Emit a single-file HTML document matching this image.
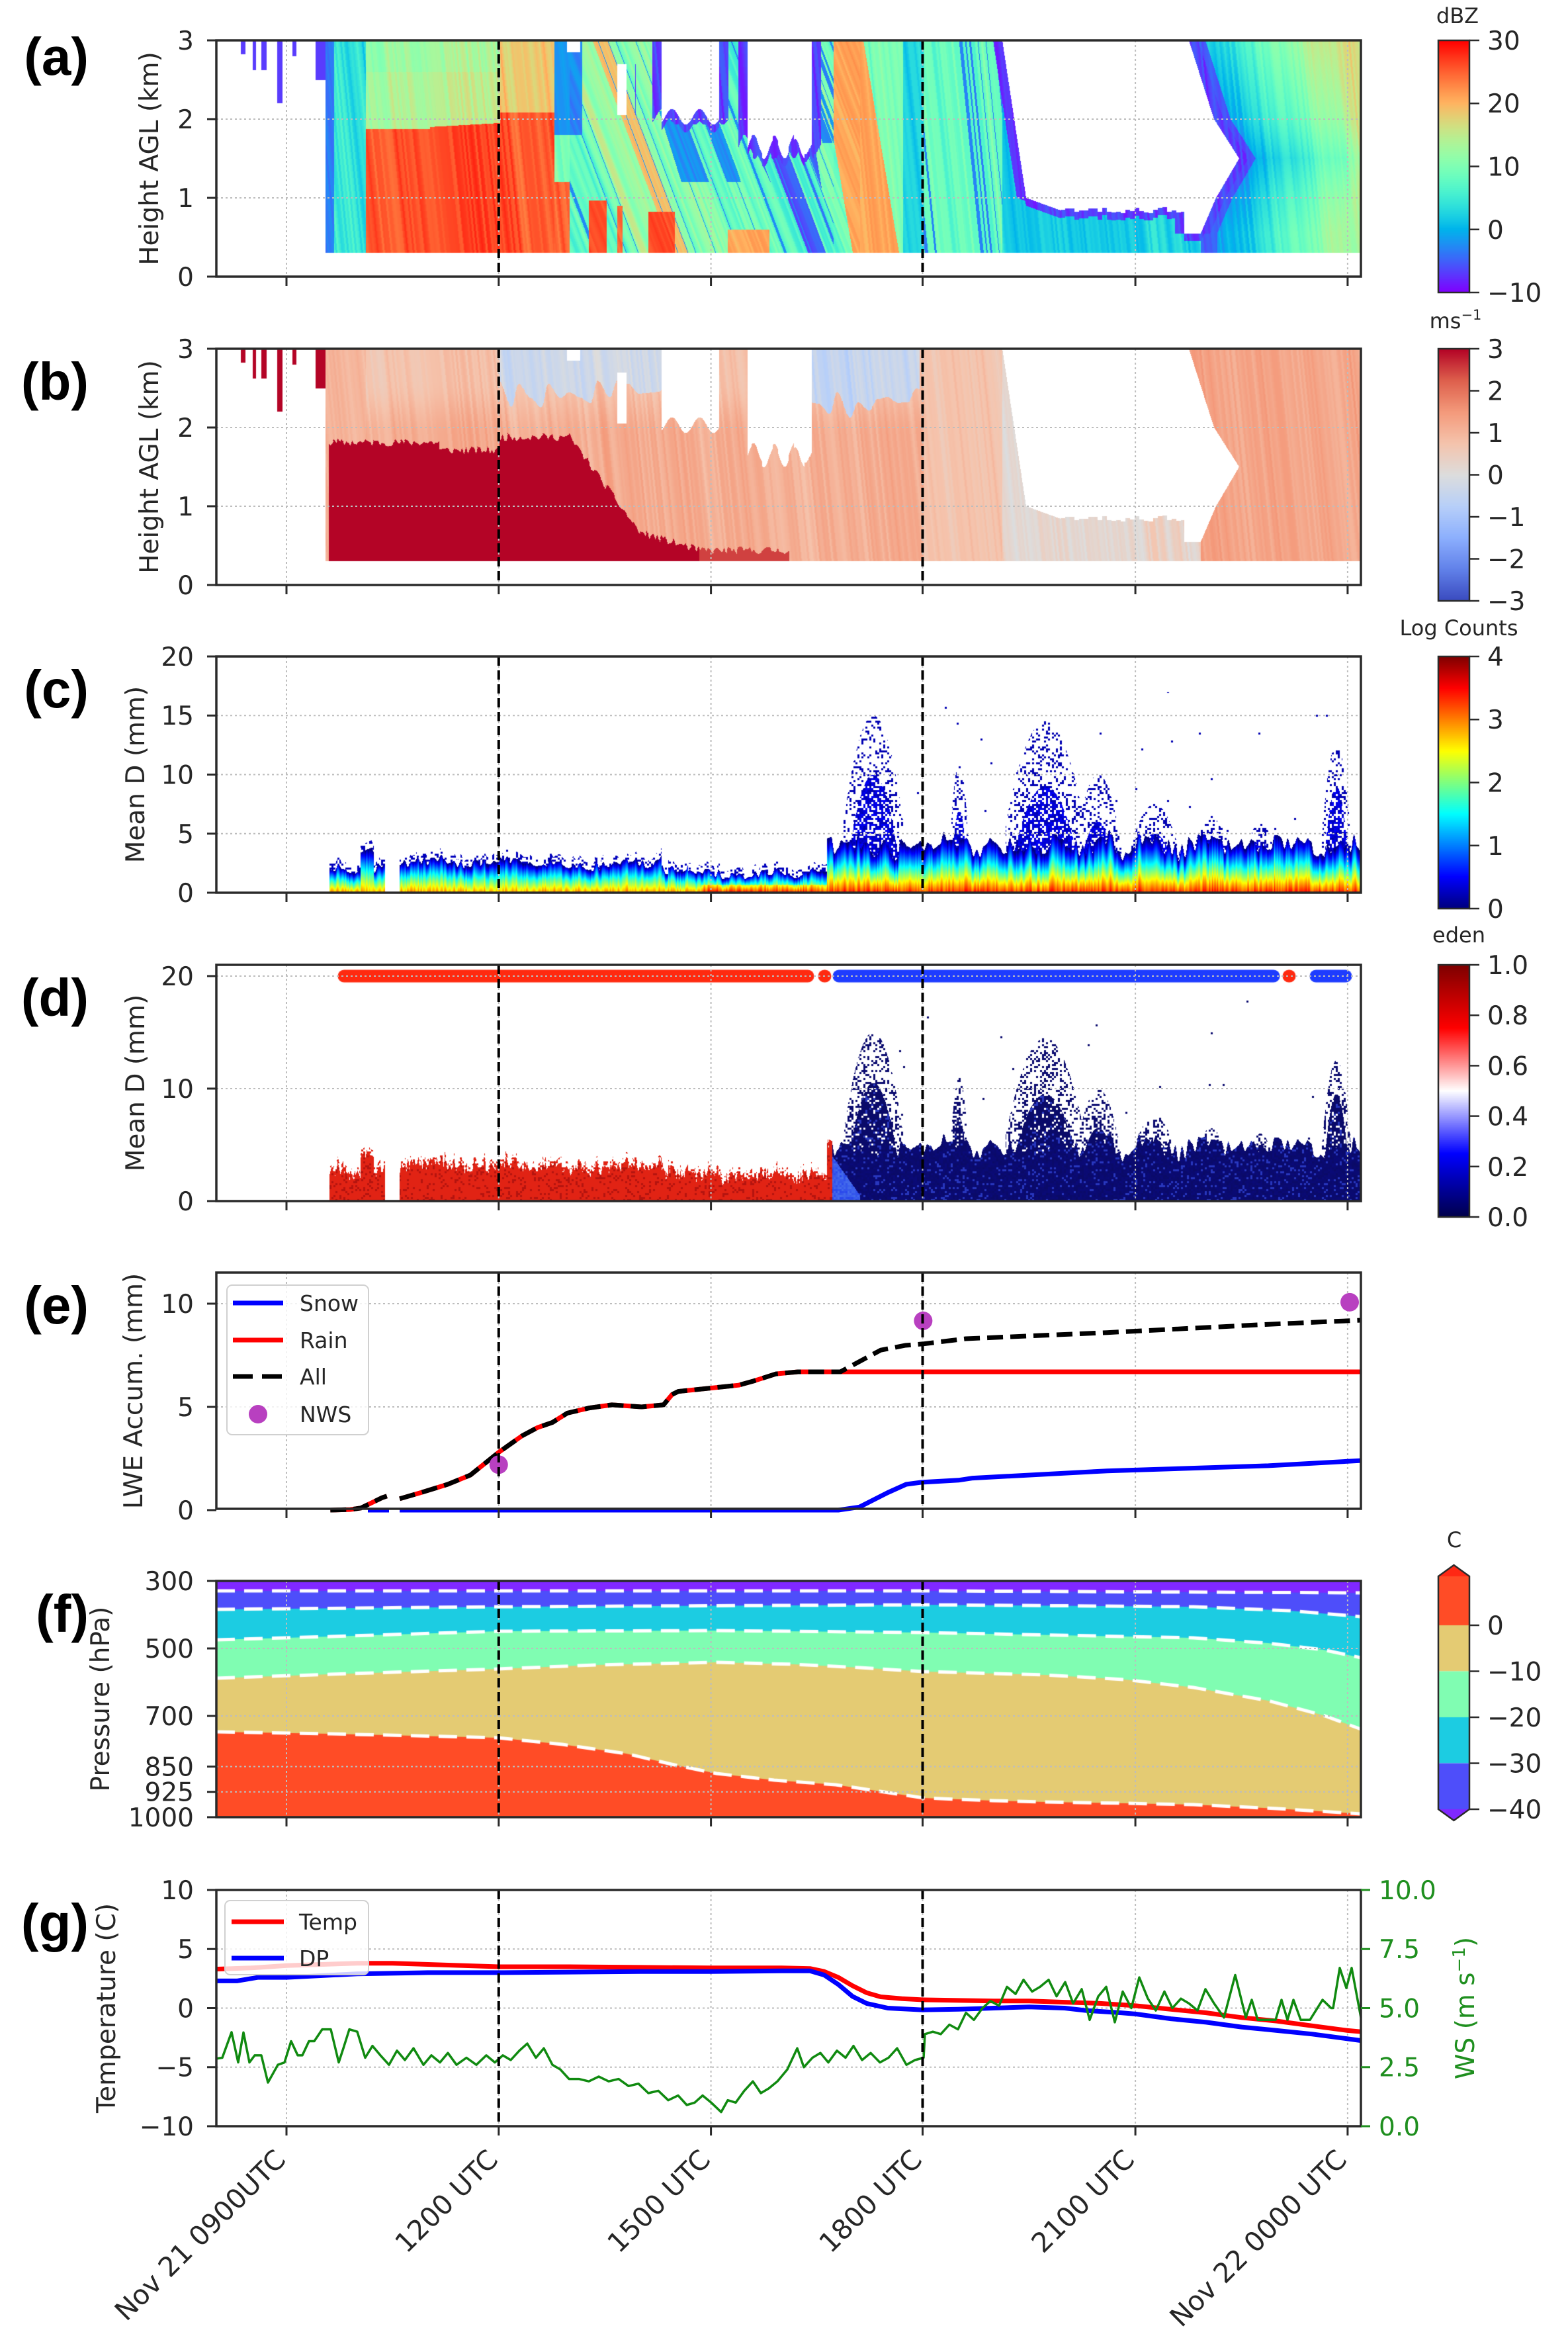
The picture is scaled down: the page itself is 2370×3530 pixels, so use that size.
<!DOCTYPE html>
<html><head><meta charset="utf-8"><title>chart</title>
<style>
html,body{margin:0;padding:0;background:#fff;}
#wrap{position:relative;width:2370px;height:3530px;overflow:hidden;background:#fff;}
#cv,#sv{position:absolute;left:0;top:0;}
#sv text{font-family:"DejaVu Sans","Liberation Sans",sans-serif;}
</style></head><body><div id="wrap">
<canvas id="cv" width="2370" height="3530"></canvas>
<svg id="sv" width="2370" height="3530" viewBox="0 0 2370 3530" xmlns="http://www.w3.org/2000/svg">
<g id="dyn"></g>

<!-- legend e -->
<rect x="343" y="1942" width="214" height="226" rx="8" fill="#fff" fill-opacity="0.8" stroke="#d0d0d0" stroke-width="2"/>
<line x1="352" y1="1969" x2="428" y2="1969" stroke="#0000ff" stroke-width="7"/>
<line x1="352" y1="2025" x2="428" y2="2025" stroke="#ff0000" stroke-width="7"/>
<line x1="352" y1="2080" x2="428" y2="2080" stroke="#000" stroke-width="7" stroke-dasharray="30 14"/>
<circle cx="390" cy="2137" r="14" fill="#b840c0"/>
<g font-size="33" fill="#262626">
<text x="453" y="1981">Snow</text>
<text x="453" y="2037">Rain</text>
<text x="453" y="2092">All</text>
<text x="453" y="2149">NWS</text>
</g>
<!-- legend g -->
<rect x="340" y="2872" width="217" height="112" rx="8" fill="#fff" fill-opacity="0.8" stroke="#d0d0d0" stroke-width="2"/>
<line x1="350" y1="2904" x2="429" y2="2904" stroke="#ff0000" stroke-width="7"/>
<line x1="350" y1="2959" x2="429" y2="2959" stroke="#0000ff" stroke-width="7"/>
<g font-size="33" fill="#262626">
<text x="452" y="2916">Temp</text>
<text x="452" y="2971">DP</text>
</g>

<!-- panel letters -->
<g font-size="80" text-anchor="end" fill="#000" font-weight="bold">
<text x="134" y="113" style="font-family:'Liberation Sans',Arial,sans-serif">(a)</text>
<text x="134" y="604" style="font-family:'Liberation Sans',Arial,sans-serif">(b)</text>
<text x="134" y="1069" style="font-family:'Liberation Sans',Arial,sans-serif">(c)</text>
<text x="134" y="1535" style="font-family:'Liberation Sans',Arial,sans-serif">(d)</text>
<text x="134" y="2000" style="font-family:'Liberation Sans',Arial,sans-serif">(e)</text>
<text x="134" y="2466" style="font-family:'Liberation Sans',Arial,sans-serif">(f)</text>
<text x="134" y="2933" style="font-family:'Liberation Sans',Arial,sans-serif">(g)</text>
</g>

<!-- y labels -->
<g font-size="39" fill="#262626" text-anchor="middle">
<text transform="translate(239,239.5) rotate(-90)">Height AGL (km)</text>
<text transform="translate(239,705.5) rotate(-90)">Height AGL (km)</text>
<text transform="translate(218,1170.5) rotate(-90)">Mean D (mm)</text>
<text transform="translate(218,1636.5) rotate(-90)">Mean D (mm)</text>
<text transform="translate(215,2102) rotate(-90)">LWE Accum. (mm)</text>
<text transform="translate(165,2567.5) rotate(-90)">Pressure (hPa)</text>
<text transform="translate(174,3034.5) rotate(-90)">Temperature (C)</text>
<text transform="translate(2228,3034.5) rotate(-90)" fill="#1f8f1f">WS (m s<tspan font-size="26" dy="-14">−1</tspan><tspan dy="14">)</tspan></text>
</g>

<!-- y tick labels -->
<g font-size="39" fill="#262626" text-anchor="end">
<text x="293" y="75">3</text><text x="293" y="194">2</text><text x="293" y="313">1</text><text x="293" y="432">0</text>
<text x="293" y="541">3</text><text x="293" y="660">2</text><text x="293" y="779">1</text><text x="293" y="898">0</text>
<text x="293" y="1006">20</text><text x="293" y="1095">15</text><text x="293" y="1184.5">10</text><text x="293" y="1274">5</text><text x="293" y="1363">0</text>
<text x="293" y="1489">20</text><text x="293" y="1659">10</text><text x="293" y="1829">0</text>
<text x="293" y="1984">10</text><text x="293" y="2140">5</text><text x="293" y="2296">0</text>
<text x="293" y="2403">300</text><text x="293" y="2505">500</text><text x="293" y="2607">700</text><text x="293" y="2683.5">850</text><text x="293" y="2721.7">925</text><text x="293" y="2760">1000</text>
<text x="293" y="2870">10</text><text x="293" y="2959.2">5</text><text x="293" y="3048.5">0</text><text x="293" y="3137.7">−5</text><text x="293" y="3227">−10</text>
</g>
<g font-size="39" fill="#1f8f1f" text-anchor="start">
<text x="2084" y="2870">10.0</text><text x="2084" y="2959.2">7.5</text><text x="2084" y="3048.5">5.0</text><text x="2084" y="3137.7">2.5</text><text x="2084" y="3227">0.0</text>
</g>

<!-- colorbar tick labels -->
<g font-size="39" fill="#262626" text-anchor="start">
<text x="2248" y="75">30</text><text x="2248" y="170">20</text><text x="2248" y="265.5">10</text><text x="2248" y="361">0</text><text x="2248" y="456">−10</text>
<text x="2248" y="541">3</text><text x="2248" y="604.5">2</text><text x="2248" y="668">1</text><text x="2248" y="731.5">0</text><text x="2248" y="795">−1</text><text x="2248" y="858.5">−2</text><text x="2248" y="922">−3</text>
<text x="2248" y="1006">4</text><text x="2248" y="1101">3</text><text x="2248" y="1196.5">2</text><text x="2248" y="1292">1</text><text x="2248" y="1387">0</text>
<text x="2248" y="1472">1.0</text><text x="2248" y="1548">0.8</text><text x="2248" y="1624.4">0.6</text><text x="2248" y="1700.6">0.4</text><text x="2248" y="1776.8">0.2</text><text x="2248" y="1853">0.0</text>
<text x="2248" y="2470">0</text><text x="2248" y="2539.5">−10</text><text x="2248" y="2609">−20</text><text x="2248" y="2678.5">−30</text><text x="2248" y="2748">−40</text>
</g>
<!-- colorbar titles -->
<g font-size="32" fill="#262626" text-anchor="middle">
<text x="2203" y="35">dBZ</text>
<text x="2200" y="496">ms<tspan font-size="21" dy="-13">−1</tspan></text>
<text x="2205" y="960">Log Counts</text>
<text x="2205" y="1424">eden</text>
<text x="2198" y="2338">C</text>
</g>

<!-- x tick labels -->
<g font-size="41" fill="#262626" text-anchor="end">
<text transform="translate(434,3266) rotate(-45)">Nov 21 0900UTC</text>
<text transform="translate(755,3266) rotate(-45)">1200 UTC</text>
<text transform="translate(1076,3266) rotate(-45)">1500 UTC</text>
<text transform="translate(1396,3266) rotate(-45)">1800 UTC</text>
<text transform="translate(1717,3266) rotate(-45)">2100 UTC</text>
<text transform="translate(2038,3266) rotate(-45)">Nov 22 0000 UTC</text>
</g>
</svg></div>
<script>
(function(){
const cv=document.getElementById('cv'),ctx=cv.getContext('2d');
const NS='http://www.w3.org/2000/svg',dyn=document.getElementById('dyn');
function el(t,a){const e=document.createElementNS(NS,t);for(const k in a)e.setAttribute(k,a[k]);dyn.appendChild(e);return e;}
const L=327,R=2057,W=1730,H=357;
const T={a:61,b:527,c:992,d:1458,e:1923,f:2389,g:2856};
const XT=[433,753.8,1074.6,1394.5,1716.1,2036.9];
const X=h=>433+(h-9)*106.93;
const cl=v=>v<0?0:v>1?1:v;
function rainbow(t){t=cl(t);return [Math.min(1,Math.abs(2*t-0.5))*255,Math.sin(Math.PI*t)*255,Math.cos(Math.PI*t/2)*255];}
function stops(S,t){t=cl(t);for(let i=1;i<S.length;i++){if(t<=S[i][0]){const a=S[i-1],b=S[i],f=(t-a[0])/(b[0]-a[0]);return [a[1]+(b[1]-a[1])*f,a[2]+(b[2]-a[2])*f,a[3]+(b[3]-a[3])*f];}}const l=S[S.length-1];return [l[1],l[2],l[3]];}
const CW=[[0,59,76,192],[0.125,98,130,234],[0.25,141,176,254],[0.375,184,208,249],[0.5,221,221,221],[0.625,245,196,173],[0.75,244,154,123],[0.875,222,96,77],[1,180,4,38]];
const SE=[[0,0,0,76],[0.25,0,0,255],[0.5,255,255,255],[0.75,255,0,0],[1,127,0,0]];
const coolwarm=t=>stops(CW,t),seismic=t=>stops(SE,t);
function jet(t){t=cl(t);const f=v=>cl(1.5-Math.abs(v))*255;return [f(4*t-3),f(4*t-2),f(4*t-1)];}
function rng(s){return function(){s=(s*1664525+1013904223)>>>0;return s/4294967296;};}
function mkNoise(n,sc,seed){const r=rng(seed);const k=Math.ceil(n/sc)+3;const p=[];for(let i=0;i<k;i++)p.push(r()*2-1);const a=new Float32Array(n);for(let i=0;i<n;i++){const q=i/sc,i0=Math.floor(q),f=q-i0,s=f*f*(3-2*f);a[i]=p[i0]*(1-s)+p[i0+1]*s;}return a;}
function hash(i,j){let h=(Math.imul(i|0,374761393)+Math.imul(j|0,668265263))|0;h=Math.imul(h^(h>>>13),1274126177);h^=h>>>16;return (h>>>0)/4294967296;}
function lerpPts(P,v){if(v<=P[0][0])return P[0][1];for(let i=1;i<P.length;i++){if(v<=P[i][0]){const a=P[i-1],b=P[i];return a[1]+(b[1]-a[1])*(v-a[0])/(b[0]-a[0]);}}return P[P.length-1][1];}
function paint(top,fn){const img=ctx.createImageData(W,H),d=img.data;for(let j=0;j<H;j++){const y=top+j+0.5;for(let i=0;i<W;i++){const x=L+i+0.5;const c=fn(x,y);const k=(j*W+i)*4;if(c){d[k]=c[0];d[k+1]=c[1];d[k+2]=c[2];}else{d[k]=255;d[k+1]=255;d[k+2]=255;}d[k+3]=255;}}ctx.putImageData(img,L,top);}
const sm=(a,b,v)=>{const t=cl((v-a)/(b-a));return t*t*(3-2*t);};

/* ---------- panels a & b ---------- */
const nA1=mkNoise(2200,3,11),nA2=mkNoise(2200,15,12),nA3=mkNoise(2200,50,13);
const streaks=[[364,371,2.82],[382,387,2.62],[395,403,2.62],[419,427,2.2],[442,448,2.8],[477,493,2.5]];
const holeR=[[0.55,1815],[1.0,1838],[1.5,1873],[2.0,1835],[3.0,1797]];
function holeL(h){return h>=1.0?1515+(3-h)*18:1551+(1.0-h)/0.15*49;}
function holeBottom(x){if(x<1600)return 0.85+(1600-x)/49*0.15;if(x<1790)return 0.85+0.08*(hash(Math.floor(x/7),3)-0.5);return 0.55;}
function inHole(x,h){
 if(h<0.3)return true;
 if(x<492){for(const s of streaks)if(x>=s[0]&&x<s[1]&&h>=s[2])return false;return true;}
 if(x>=857&&x<877&&h>2.85)return true;
 if(x>=933&&x<947&&h>2.05&&h<2.7)return true;
 if(x>=1000&&x<1087&&h>2.03+0.1*Math.sin(x*0.15))return true;
 if(x>=1130&&x<1227&&h>1.64+0.12*Math.sin(x*0.2)+0.1*(hash(Math.floor(x/8),9)-0.5))return true;
 if(h>0.5&&x>holeL(h)&&x<lerpPts(holeR,h)&&h>holeBottom(x))return true;
 return false;}
function idx(x,h,s){let i=Math.round(x-L+100-s*(1.5-h));return i<0?0:i>2199?2199:i;}
function valA(x,h){
 const s=(x>861&&x<1300)?45:12;
 const xi=idx(x,h,s);const n=0.55*nA1[xi]+0.45*nA2[xi];
 if(x<492)return -7;
 if(x<505)return -4+2*n;
 if(x<553)return 4+5*n;
 if(x<838){const ht=x<650?1.87:x<756?1.9+(x-650)/106*0.05:2.08;
  if(h<ht)return 26+3*n;
  return x<756?14+4*n-(h>2.6?1.5:0):19+3*n;}
 if(x<861)return h<1.2?25+3*n:(h>1.8?-2+2*n:10+5*n);
 if(x<1260){
  if(x>=890&&x<917&&h<0.97)return 26+2*n;
  if(x>=933&&x<941&&h<0.9)return 25+2*n;
  if(x>=980&&x<1020&&h<0.82)return 26+2*n;
  if(x>=1100&&x<1163&&h<0.6)return 21+2*n;
  const xs=x-45*(1.5-h);
  let v=9+5*n+3*nA3[xi];
  if(Math.abs(xs-975)<12)v=19+2*n;
  if(x<880&&h>1.8)v=-3+2*n;
  if(h>1.2&&h<2.1){const c=1045+(2.0-h)/0.8*30;if(Math.abs(x-c)<45&&nA2[xi]>-0.35)v=-3+3*n;}
  if(h<1.7){const t=(1.64-h)/1.34;const xl=1140+t*75,xr=1232+t*26;if(x>xl&&x<xr&&nA2[xi]>-0.45)v=-5+3*n;}
  if(x>1232&&h>1.7&&nA1[xi]<0)v=-2+2*n;
  if(nA1[xi]<-0.8)v=-2+2*n;
  return v;}
 if(x<1365){const c=1300+20*(1.5-h);if(Math.abs(x-c)<35)return 21+2*n;return 9+4*n;}
 if(x<1396)return 2+3*n;
 if(x<1515){if(nA1[xi]<-0.6)return -3+2*n;return 8+4*n+2*nA3[xi];}
 const hc=Math.max(0.55,Math.min(3,h));const rr=lerpPts(holeR,hc);
 if(x<rr)return 2+3*n;
 const d=x-rr;
 if(d<25)return -6+2*n;
 return Math.min(13,-3+(d-25)/140*12)+h*1.2+3*n;}
function valB(x,h){
 const xi=idx(x,h,12);const n=0.55*nA1[xi]+0.45*nA2[xi];
 if(x<492)return 3;
 let dt=0;
 if(x>=497&&x<664)dt=1.81;else if(x>=664&&x<755)dt=1.71;else if(x>=755&&x<861)dt=1.88;
 else if(x>=861&&x<967)dt=1.88-(x-861)/106*1.21;else if(x>=967&&x<1057)dt=0.67-(x-967)/90*0.23;else if(x>=1057&&x<1193)dt=0.44;
 if(dt>0)dt+=0.05*nA1[xi];
 if(h<dt)return x>1057?2.5:3;
 if(x<553)return 1.0+0.3*n;
 if(x>=755&&x<1000&&h>2.45+0.2*nA2[xi])return -0.3+0.4*n;
 if(x>=1220&&x<1390&&h>2.3+0.2*nA2[xi])return -0.5+0.5*n;
 if(x>=1515){const hc=Math.max(0.55,Math.min(3,h));const rr=lerpPts(holeR,hc);
  if(x<rr)return 0.25+0.45*n;return 1.25+0.35*n;}
 if(x>=1396)return 0.7+0.3*n;
 return 1.15-0.4*sm(1.9,2.6,h)+0.4*n;}
paint(T.a,function(x,y){const h=(418-y)/119;if(inHole(x,h))return null;
 let v;
 if(x>960&&(inHole(x+14,h)||inHole(x-14,h)||inHole(x,h+0.1)))v=-7+2*nA1[idx(x,h,12)];
 else v=valA(x,h);
 return rainbow((v+10)/40);});
paint(T.b,function(x,y){const h=(884-y)/119;if(inHole(x,h))return null;return coolwarm((valB(x,h)+3)/6);});

/* ---------- panels c & d ---------- */
const nC1=mkNoise(2200,5,31),nC2=mkNoise(2200,25,32),nC3=mkNoise(2200,2,33);
function bandC(x){const i=Math.round(x-L)+100;
 if(x<498)return 0;
 if(x<582)return 2.0+0.5*nC1[i]+(x>545&&x<565?1.4:0);
 if(x<604)return 0;
 if(x<1000)return 2.5+0.45*nC1[i]+0.35*nC2[i];
 if(x<1250)return 1.6+0.35*nC1[i]+0.25*nC2[i]+(x>1010&&x<1040?0.6:0);
 return 4.0+0.9*nC1[i]+0.7*nC2[i];}
const TW=[[1320,45,10,15],[1450,14,7,11],[1580,60,9,14.5],[1660,35,6,10],[1745,40,5,7.5],[1830,30,4.5,6.5],[1905,25,4.5,6],[2020,22,9,12.5]];
function tw(x){let d=0,s=0;for(const t of TW){const u=Math.abs(x-t[0])/t[1];if(u<1){d=Math.max(d,t[2]*(1-u*u));s=Math.max(s,t[3]*(1-u*u*0.6));}}return [d,s];}
paint(T.c,function(x,y){const D=(1349-y)/17.85;if(D<0.08)return null;const i=Math.round(x-L)+100;const r=hash(Math.floor(x/3),Math.floor(y/3));const bt=bandC(x);
 if(bt<=0)return null;
 if(x<1250){if(D<bt){const f=D/bt;let v=2.9*Math.pow(1-f,0.85)+0.3*nC3[i]+(x>1060&&D<0.7?0.5:0);return jet(v/4);}
  if(D<bt+0.6&&r<0.25)return jet(0.06);return null;}
 const q=tw(x);
 if(D<bt){const f=D/bt;const v=3.35*(1-f)+0.3*nC3[i];return jet(v/4);}
 if(D<Math.max(bt,q[0]))return r<0.7?jet(0.04+0.12*r):null;
 if(D<Math.max(bt,q[1]))return r<0.22?jet(0.05):null;
 return (r<0.0015&&D<17)?jet(0.05):null;});
paint(T.d,function(x,y){const D=(1815-y)/17.0;if(D<0.08)return null;const i=Math.round(x-L)+100;const r=hash(Math.floor(x/3)+11,Math.floor(y/3)+17);
 if(x<498)return null;
 if(x<1258){const bt=bandC(x);if(bt<=0)return null;const top=bt+0.6+0.5*nC3[i];if(D<top)return r<0.15?[180,20,15]:[225,35,20];if(D<top+0.5&&r<0.3)return [225,35,20];return null;}
 const bt=bandC(x)+0.8;const q=tw(x);
 if(D<bt){if(x<1300&&D<0.5+3.5*(1300-x)/42)return [40+30*r,70+40*r,235];return r<0.12?[40,55,190]:[10,10,100+20*r];}
 if(D<Math.max(bt,q[0]+0.5))return r<0.85?(r<0.1?[40,55,190]:[10,10,105]):null;
 if(D<Math.max(bt,q[1]))return r<0.3?[10,10,110]:null;
 return (r<0.0015&&D<18)?[10,10,110]:null;});
ctx.lineCap='round';ctx.lineWidth=19;
function seg(x1,x2,c){ctx.strokeStyle=c;ctx.beginPath();ctx.moveTo(x1,1475);ctx.lineTo(x2,1475);ctx.stroke();}
seg(520,1221,'#ff2a10');seg(1246,1247,'#ff2a10');seg(1268,1925,'#1e3cff');seg(1948,1949,'#ff2a10');seg(1989,2034,'#1e3cff');
ctx.lineCap='butt';

/* ---------- panel f ---------- */
const c0=[[327,2617],[500,2620],[753,2626],[850,2636],[947,2650],[1015,2666],[1083,2680],[1170,2690],[1263,2697],[1330,2707],[1396,2717],[1500,2721],[1579,2723],[1700,2725],[1804,2727],[1930,2733],[2057,2741]];
const c10=[[327,2536],[500,2530],[753,2522],[900,2516],[1083,2512],[1200,2515],[1300,2520],[1396,2526],[1579,2531],[1700,2538],[1804,2550],[1917,2570],[2000,2592],[2057,2613]];
const c20=[[327,2478],[500,2473],[753,2465],[1083,2464],[1396,2467],[1600,2471],[1804,2475],[1917,2483],[2000,2493],[2057,2505]];
const c30=[[327,2432],[753,2428],[1396,2425],[1804,2428],[1950,2434],[2057,2443]];
const c40=[[327,2404],[1396,2404],[2057,2407]];
ctx.fillStyle='rgb(255,76,38)';ctx.fillRect(L,T.f,W,H);
function pf(col,P){ctx.fillStyle=col;ctx.beginPath();ctx.moveTo(L,T.f);for(const p of P)ctx.lineTo(p[0],p[1]);ctx.lineTo(R,T.f);ctx.closePath();ctx.fill();}
pf('rgb(228,203,115)',c0);pf('rgb(128,253,178)',c10);pf('rgb(28,204,226)',c20);pf('rgb(78,78,250)',c30);pf('rgb(128,40,255)',c40);
ctx.strokeStyle='#fff';ctx.lineWidth=5;ctx.setLineDash([28,14]);
for(const P of [c0,c10,c20,c30,c40]){ctx.beginPath();P.forEach((p,k)=>k?ctx.lineTo(p[0],p[1]):ctx.moveTo(p[0],p[1]));ctx.stroke();}
ctx.setLineDash([]);

/* ---------- colorbars ---------- */
function cbar(top,fn){for(let j=0;j<381;j++){const c=fn(1-j/380);ctx.fillStyle='rgb('+(c[0]|0)+','+(c[1]|0)+','+(c[2]|0)+')';ctx.fillRect(2174,top+j,47,1.2);}}
cbar(61,rainbow);cbar(527,coolwarm);cbar(992,jet);cbar(1458,seismic);
const fcb=[[2382,2456,'rgb(255,76,38)'],[2456,2525.5,'rgb(228,203,115)'],[2525.5,2595,'rgb(128,253,178)'],[2595,2664.5,'rgb(28,204,226)'],[2664.5,2734,'rgb(78,78,250)']];
for(const s of fcb){ctx.fillStyle=s[2];ctx.fillRect(2174,s[0],47,s[1]-s[0]);}
ctx.fillStyle='rgb(255,40,20)';ctx.beginPath();ctx.moveTo(2174,2382);ctx.lineTo(2197.5,2365);ctx.lineTo(2221,2382);ctx.closePath();ctx.fill();
ctx.fillStyle='rgb(128,40,255)';ctx.beginPath();ctx.moveTo(2174,2734);ctx.lineTo(2197.5,2751);ctx.lineTo(2221,2734);ctx.closePath();ctx.fill();

/* ---------- SVG: grid ---------- */
const gridC='#bdbdbd';
function hgrid(ys){for(const y of ys)el('line',{x1:L,x2:R,y1:y,y2:y,stroke:gridC,'stroke-width':2,'stroke-dasharray':'3 4'});}
function vgrid(top){for(const x of XT)el('line',{x1:x,x2:x,y1:top,y2:top+H,stroke:gridC,'stroke-width':2,'stroke-dasharray':'3 4'});}
const hg={a:[180,299],b:[646,765],c:[1081.25,1170.5,1259.75],d:[1475,1645],e:[1970,2126],f:[2491,2593,2669.5,2707.75],g:[2945.25,3034.5,3123.75]};
for(const k in T){vgrid(T[k]);hgrid(hg[k]);}

/* ---------- series e ---------- */
const fe=v=>2282-v*31.2;
function pH(P,fy){return P.map((p,k)=>(k?'L':'M')+X(p[0]).toFixed(1)+' '+fy(p[1]).toFixed(1)).join('');}
const snow1=[[10.15,0],[10.45,0]],snow2=[[10.6,0],[16.8,0],[17.1,0.15],[17.5,0.85],[17.76,1.25],[17.98,1.35],[18.5,1.45],[18.7,1.55],[20.6,1.9],[22.88,2.15],[24.19,2.4]];
const all1=[[9.62,0],[9.9,0.03],[10.05,0.1],[10.2,0.35],[10.35,0.6],[10.42,0.68]];
const allMid=[[10.6,0.55],[10.9,0.85],[11.28,1.25],[11.6,1.7],[12.0,2.8],[12.33,3.6],[12.55,4.0],[12.76,4.25],[12.97,4.7],[13.28,4.95],[13.6,5.1],[14.02,5.0],[14.33,5.1],[14.45,5.6],[14.54,5.75],[14.97,5.9],[15.39,6.05],[15.6,6.25],[15.92,6.6],[16.23,6.7],[16.83,6.7]];
const rain2=allMid.concat([[24.19,6.7]]);
const all2=allMid.concat([[17.1,7.2],[17.4,7.75],[17.75,7.98],[18.0,8.05],[18.6,8.3],[20.6,8.6],[22.88,9.0],[24.19,9.2]]);
el('path',{d:pH(snow1,fe)+pH(snow2,fe),fill:'none',stroke:'#0000ff','stroke-width':7,'stroke-linejoin':'round'});
el('path',{d:pH(all1,fe)+pH(rain2,fe),fill:'none',stroke:'#ff0000','stroke-width':7,'stroke-linejoin':'round'});
el('path',{d:pH(all1,fe)+pH(all2,fe),fill:'none',stroke:'#000','stroke-width':7,'stroke-dasharray':'24 11'});
for(const p of [[X(12),2.2],[X(18),9.17],[2040,10.07]])el('circle',{cx:p[0],cy:fe(p[1]),r:14,fill:'#b840c0'});

/* ---------- series g ---------- */
const ft=t=>3034.5-t*17.85,fw=w=>3213-w*35.7;
const temp=[[8.0,3.3],[8.5,3.4],[9,3.6],[9.5,3.7],[10,3.8],[10.5,3.8],[11,3.7],[11.5,3.6],[12,3.5],[13,3.5],[14,3.45],[15,3.4],[16,3.4],[16.4,3.35],[16.6,3.1],[16.8,2.6],[17.0,1.9],[17.2,1.3],[17.4,0.95],[17.7,0.8],[18,0.7],[19,0.6],[19.5,0.6],[20,0.5],[20.5,0.4],[21,0.2],[21.5,-0.1],[22,-0.4],[22.5,-0.8],[23,-1.1],[23.5,-1.5],[24,-1.9],[24.19,-2.0]];
const dp=[[8,2.3],[8.3,2.3],[8.6,2.6],[9,2.6],[10,2.9],[11,3.0],[12,3.0],[13,3.05],[14,3.1],[15,3.1],[16,3.15],[16.4,3.15],[16.6,2.8],[16.8,2.0],[17.0,1.0],[17.2,0.4],[17.5,0.0],[18,-0.15],[18.5,-0.1],[19,0.0],[19.5,0.1],[20,0.0],[20.3,-0.2],[20.8,-0.4],[21,-0.5],[21.5,-0.9],[22,-1.2],[22.5,-1.6],[23,-1.9],[23.5,-2.2],[24,-2.6],[24.19,-2.75]];
el('path',{d:pH(temp,ft),fill:'none',stroke:'#ff0000','stroke-width':7,'stroke-linejoin':'round'});
el('path',{d:pH(dp,ft),fill:'none',stroke:'#0000ff','stroke-width':7,'stroke-linejoin':'round'});
const ws=[[327,2.86],[336,2.9],[350,3.98],[360,2.7],[368,3.97],[377,2.7],[385,3.0],[395,3.0],[405,1.85],[420,2.6],[430,2.7],[440,3.6],[450,3.0],[457,3.0],[467,3.6],[475,3.6],[487,4.1],[500,4.1],[512,2.7],[519,3.3],[528,4.1],[540,4.0],[552,2.9],[563,3.4],[575,3.0],[588,2.6],[600,3.2],[612,2.8],[625,3.3],[640,2.6],[652,3.0],[665,2.7],[677,3.1],[690,2.6],[705,2.9],[720,2.6],[735,3.0],[748,2.7],[760,3.0],[772,2.8],[785,3.2],[797,3.5],[810,2.9],[822,3.3],[835,2.6],[847,2.4],[860,2.0],[875,2.0],[890,1.9],[905,2.1],[920,1.9],[935,2.0],[950,1.7],[965,1.8],[980,1.4],[995,1.5],[1010,1.1],[1025,1.3],[1038,0.9],[1050,1.0],[1062,1.3],[1075,1.0],[1090,0.6],[1100,1.1],[1112,1.0],[1125,1.5],[1138,1.9],[1150,1.4],[1162,1.6],[1175,1.9],[1190,2.4],[1205,3.3],[1215,2.5],[1228,2.9],[1240,3.1],[1252,2.7],[1265,3.2],[1278,2.9],[1290,3.4],[1303,2.8],[1316,3.1],[1330,2.7],[1343,2.9],[1356,3.3],[1370,2.6],[1383,2.8],[1396,2.9],[1398,3.9],[1410,4.0],[1422,3.9],[1435,4.3],[1448,4.1],[1460,4.8],[1472,4.5],[1485,5.0],[1497,5.3],[1510,5.1],[1522,5.9],[1535,5.6],[1547,6.2],[1560,5.7],[1572,5.9],[1585,6.2],[1597,5.5],[1610,6.1],[1622,5.2],[1635,5.8],[1647,4.5],[1660,5.5],[1672,5.9],[1685,4.4],[1697,5.7],[1710,5.0],[1722,6.3],[1735,5.4],[1747,4.9],[1760,5.7],[1772,5.0],[1785,5.4],[1797,5.2],[1810,4.9],[1822,5.8],[1835,5.2],[1850,4.6],[1867,6.4],[1883,4.6],[1892,5.35],[1901,4.5],[1928,4.5],[1937,5.35],[1946,4.5],[1955,5.35],[1966,4.5],[1980,4.5],[1999,5.35],[2012,5.0],[2015,5.0],[2025,6.7],[2035,5.85],[2043,6.7],[2057,4.6]];
el('path',{d:ws.map((p,k)=>(k?'L':'M')+p[0]+' '+fw(p[1]).toFixed(1)).join(''),fill:'none',stroke:'#108a10','stroke-width':3.5,'stroke-linejoin':'round'});

/* ---------- verticals, spines, ticks ---------- */
for(const k in T){
 for(const x of [XT[1],XT[3]])el('line',{x1:x,x2:x,y1:T[k],y2:T[k]+H,stroke:'#000','stroke-width':4,'stroke-dasharray':'14 7'});
 el('rect',{x:L,y:T[k],width:W,height:H,fill:'none',stroke:'#2a2a2a','stroke-width':3.5});
 for(const x of XT)el('line',{x1:x,x2:x,y1:T[k]+H,y2:T[k]+H+14,stroke:'#2a2a2a','stroke-width':3});
}
const yt={a:[61,180,299,418],b:[527,646,765,884],c:[992,1081.25,1170.5,1259.75,1349],d:[1475,1645,1815],e:[1970,2126,2282],f:[2389,2491,2593,2669.5,2707.75,2746],g:[2856,2945.25,3034.5,3123.75,3213]};
for(const k in yt)for(const y of yt[k])el('line',{x1:L-14,x2:L,y1:y,y2:y,stroke:'#2a2a2a','stroke-width':3});
for(const y of yt.g)el('line',{x1:R,x2:R+14,y1:y,y2:y,stroke:'#1f8f1f','stroke-width':3});
for(const t of [61,527,992,1458])el('rect',{x:2174,y:t,width:47,height:381,fill:'none',stroke:'#2a2a2a','stroke-width':2.5});
el('polygon',{points:'2174,2382 2197.5,2365 2221,2382 2221,2734 2197.5,2751 2174,2734',fill:'none',stroke:'#2a2a2a','stroke-width':2.5});
const ct=[[61,5],[527,7],[992,5],[1458,6]];
for(const c of ct)for(let i=0;i<c[1];i++){const y=c[0]+381*i/(c[1]-1);el('line',{x1:2221,x2:2236,y1:y,y2:y,stroke:'#2a2a2a','stroke-width':2.5});}
for(const y of [2456,2525.5,2595,2664.5,2734])el('line',{x1:2221,x2:2236,y1:y,y2:y,stroke:'#2a2a2a','stroke-width':2.5});
})();
</script>
</body></html>
